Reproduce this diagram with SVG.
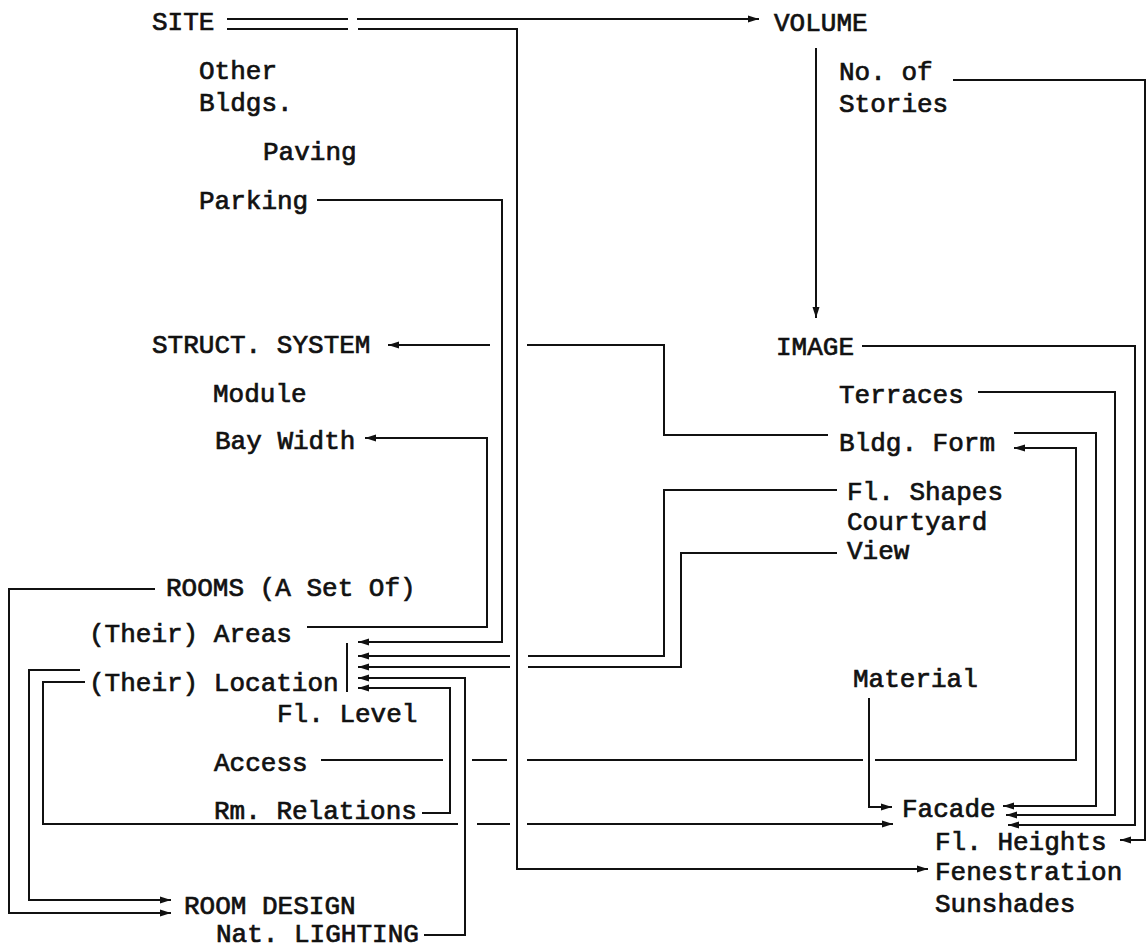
<svg xmlns="http://www.w3.org/2000/svg" width="1147" height="950" viewBox="0 0 1147 950">
<style>
.t{font-family:"Liberation Mono","DejaVu Sans Mono",monospace;font-size:26px;fill:#111;stroke:#111;stroke-width:0.7;}
.c{fill:none;stroke:#111;stroke-width:2;stroke-linejoin:miter;stroke-linecap:butt;}
.a{marker-end:url(#ah);}
</style>
<defs>
<marker id="ah" markerUnits="userSpaceOnUse" markerWidth="12" markerHeight="8" refX="11" refY="4" orient="auto">
<path d="M0,0.5 L11,4 L0,7.5 Z" fill="#111"/>
</marker>
</defs>
<rect width="1147" height="950" fill="#fff"/>
<g id="connectors">
<path class="c a" d="M357,19 H759"/>
<path class="c" d="M227,19 H348"/>
<path class="c" d="M227,29 H348"/>
<path class="c a" d="M358,29 H517 V869 H928"/>
<path class="c a" d="M816,48 V318"/>
<path class="c a" d="M953,80 H1145 V840 H1120"/>
<path class="c a" d="M317,200 H502 V642 H358"/>
<path class="c" d="M828,435 H664 V345 H527"/>
<path class="c a" d="M490,345 H388"/>
<path class="c a" d="M307,627 H487 V438 H365"/>
<path class="c" d="M837,490 H664 V656 H528"/>
<path class="c a" d="M510,656 H358"/>
<path class="c" d="M837,553 H681 V667 H528"/>
<path class="c a" d="M510,667 H358"/>
<path class="c a" d="M424,935 H465 V678 H358"/>
<path class="c a" d="M422,813 H450 V688 H358"/>
<path class="c" d="M347,643 V692"/>
<path class="c a" d="M155,589 H9 V913 H171"/>
<path class="c a" d="M80,670 H29 V900 H171"/>
<path class="c" d="M85,682 H43 V824 H458 M477,824 H510"/>
<path class="c a" d="M527,824 H893"/>
<path class="c" d="M321,760 H443 M472,760 H507 M527,760 H863"/>
<path class="c a" d="M875,760 H1076 V448 H1014"/>
<path class="c a" d="M869,698 V807 H892"/>
<path class="c a" d="M862,346 H1135 V825 H1008"/>
<path class="c a" d="M978,392 H1115 V815 H1006"/>
<path class="c a" d="M1014,433 H1096 V806 H1003"/>
</g>
<g id="site"><text class="t" x="152" y="30">SITE</text></g>
<g id="other-bldgs"><text class="t" x="199" y="79">Other</text><text class="t" x="199" y="111">Bldgs.</text></g>
<g id="paving"><text class="t" x="263" y="160">Paving</text></g>
<g id="parking"><text class="t" x="199" y="209">Parking</text></g>
<g id="volume"><text class="t" x="774" y="31">VOLUME</text></g>
<g id="no-of-stories"><text class="t" x="839" y="80">No. of</text><text class="t" x="839" y="112">Stories</text></g>
<g id="struct-system"><text class="t" x="152" y="353">STRUCT. SYSTEM</text></g>
<g id="module"><text class="t" x="213" y="402">Module</text></g>
<g id="bay-width"><text class="t" x="215" y="449">Bay Width</text></g>
<g id="image"><text class="t" x="776" y="355">IMAGE</text></g>
<g id="terraces"><text class="t" x="839" y="403">Terraces</text></g>
<g id="bldg-form"><text class="t" x="839" y="451">Bldg. Form</text></g>
<g id="fl-shapes"><text class="t" x="847" y="500">Fl. Shapes</text></g>
<g id="courtyard"><text class="t" x="847" y="530">Courtyard</text></g>
<g id="view"><text class="t" x="847" y="559">View</text></g>
<g id="rooms"><text class="t" x="166" y="596">ROOMS (A Set Of)</text></g>
<g id="areas"><text class="t" x="89" y="642">(Their) Areas</text></g>
<g id="location"><text class="t" x="89" y="691">(Their) Location</text></g>
<g id="fl-level"><text class="t" x="277" y="722">Fl. Level</text></g>
<g id="access"><text class="t" x="214" y="771">Access</text></g>
<g id="rm-relations"><text class="t" x="214" y="819">Rm. Relations</text></g>
<g id="room-design"><text class="t" x="184" y="914">ROOM DESIGN</text></g>
<g id="nat-lighting"><text class="t" x="216" y="942">Nat. LIGHTING</text></g>
<g id="material"><text class="t" x="853" y="687">Material</text></g>
<g id="facade"><text class="t" x="902" y="817">Facade</text></g>
<g id="fl-heights"><text class="t" x="935" y="850">Fl. Heights</text></g>
<g id="fenestration"><text class="t" x="935" y="880">Fenestration</text></g>
<g id="sunshades"><text class="t" x="935" y="912">Sunshades</text></g>
</svg>
